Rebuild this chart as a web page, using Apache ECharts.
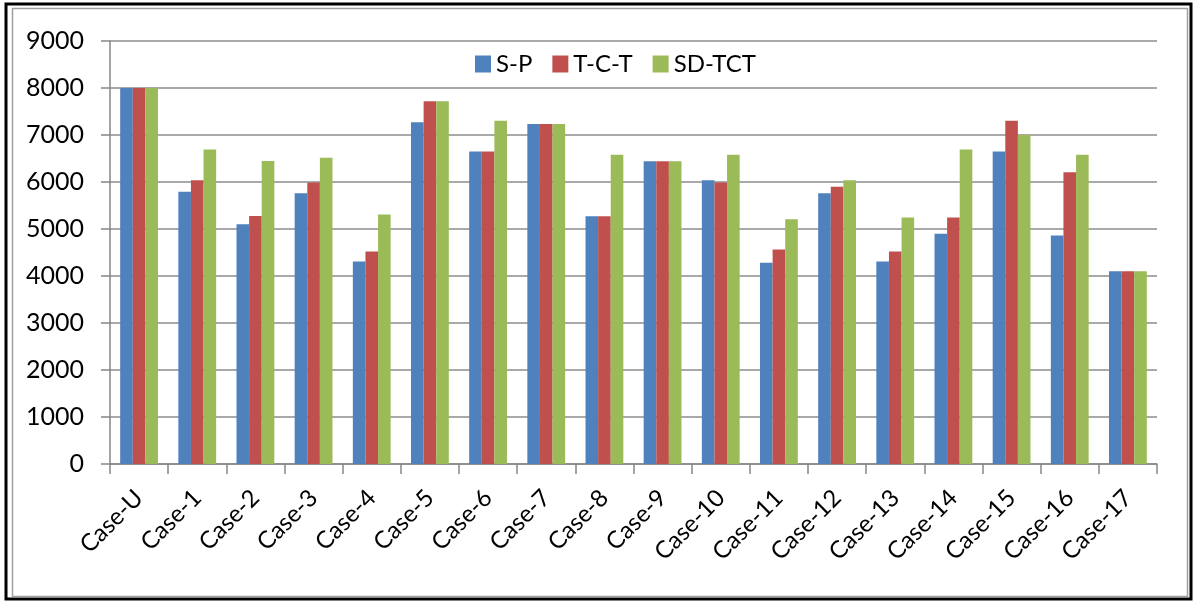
<!DOCTYPE html>
<html>
<head>
<meta charset="utf-8">
<script src="https://cdn.jsdelivr.net/npm/echarts@6/dist/echarts.min.js"></script>
<style>
html,body{margin:0;padding:0;background:#fff;}
#chart{width:1195px;height:602px;}
</style>
</head>
<body>
<div id="chart"></div>
<script>
var categories = ['Case-U','Case-1','Case-2','Case-3','Case-4','Case-5','Case-6','Case-7','Case-8',
  'Case-9','Case-10','Case-11','Case-12','Case-13','Case-14','Case-15','Case-16','Case-17'];
var seriesNames = ['S-P','T-C-T','SD-TCT'];
var spData   = [8000,5790,5100,5760,4310,7270,6650,7235,5270,6440,6035,4280,5760,4310,4900,6650,4860,4100];
var tctData  = [8000,6035,5275,5990,4520,7720,6650,7235,5270,6440,5990,4565,5900,4520,5245,7305,6205,4100];
var sdtctData= [8000,6690,6445,6515,5310,7720,7305,7235,6580,6440,6580,5205,6035,5245,6690,7000,6580,4100];
var yTicks = {min:0, max:9000, interval:1000};

var font = 'Lato';
var chart = echarts.init(document.getElementById('chart'));

function barSeries(name, data, color){
  return {
    name: name,
    type: 'bar',
    data: data,
    barGap: '0%',
    barCategoryGap: '35%',
    itemStyle: {color: color},
    animation: false
  };
}

var option = {
  backgroundColor: '#fff',
  animation: false,
  grid: {left:110, right:38, top:41, bottom:138, containLabel:false},
  legend: {
    data: seriesNames,
    left: 470,
    top: 47,
    itemWidth: 16,
    itemHeight: 17,
    itemGap: 20,
    icon: 'rect',
    textStyle: {fontFamily: font, fontSize: 24, color: '#000'}
  },
  xAxis: {
    type: 'category',
    data: categories,
    axisLine: {lineStyle: {color: '#868686', width: 1.5}},
    axisTick: {show: true, length: 10, lineStyle: {color: '#868686', width: 1.5}},
    axisLabel: {rotate: 45, fontFamily: font, fontSize: 24, color: '#000', margin: 30, interval: 0}
  },
  yAxis: {
    type: 'value',
    min: yTicks.min,
    max: yTicks.max,
    interval: yTicks.interval,
    axisLine: {show: true, lineStyle: {color: '#868686', width: 1.5}},
    axisTick: {show: true, length: 9, lineStyle: {color: '#868686', width: 1.5}},
    splitLine: {lineStyle: {color: '#8c8c8c', width: 1.5}},
    axisLabel: {fontFamily: font, fontSize: 25, color: '#000', margin: 26,
      formatter: function(v){ return String(v); }}
  },
  series: [
    barSeries(seriesNames[0], spData, '#4F81BD'),
    barSeries(seriesNames[1], tctData, '#C0504D'),
    barSeries(seriesNames[2], sdtctData, '#9BBB59')
  ],
  graphic: [
    {type:'rect', shape:{x:6, y:4, width:1185, height:595}, style:{fill:'none', stroke:'#000', lineWidth:3}, silent:true},
    {type:'rect', shape:{x:12.5, y:8.5, width:1175, height:588}, style:{fill:'none', stroke:'#a0a0a0', lineWidth:1.5}, silent:true}
  ]
};
chart.setOption(option);
</script>
</body>
</html>
